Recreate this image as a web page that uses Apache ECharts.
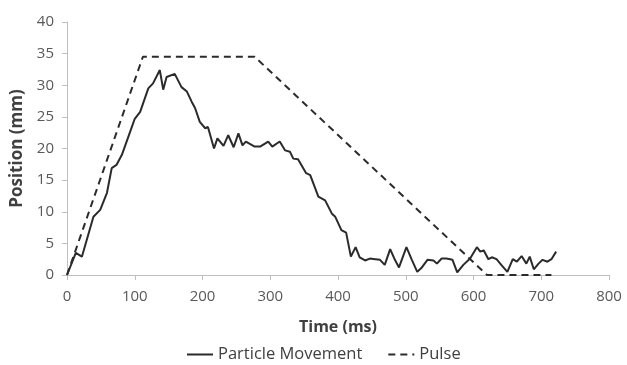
<!DOCTYPE html>
<html>
<head>
<meta charset="utf-8">
<script src="https://cdn.jsdelivr.net/npm/echarts@6/dist/echarts.min.js"></script>
<style>
html, body { margin: 0; padding: 0; background: #fff; }
#chart { width: 627px; height: 365px; }
</style>
</head>
<body>
<div id="chart"></div>
<script>
// 粒子位移
var particleTime = [0, 13, 22, 39, 49, 59, 66, 73, 81, 93, 100, 108, 120, 127, 137, 142, 147, 159, 169, 177,
    184, 189, 196, 204, 208, 217, 222, 231, 238, 246, 253, 259, 264, 277, 285, 297, 303, 314, 322, 329,
    334, 341, 353, 359, 371, 381, 391, 396, 405, 412, 419, 426, 432, 440, 447, 455, 462, 469, 477, 484,
    490, 501, 509, 517, 523, 532, 541, 546, 553, 560, 569, 576, 585, 595, 605, 610, 615, 622, 627, 634,
    641, 650, 658, 664, 671, 678, 683, 689, 696, 702, 709, 715, 722];
var particlePos = [0, 3.5, 2.9, 9.2, 10.3, 13, 16.9, 17.4, 19, 22.6, 24.7, 25.8, 29.5, 30.3, 32.4, 29.3, 31.3, 31.8, 29.7, 29.0,
    27.4, 26.4, 24.2, 23.2, 23.4, 20, 21.6, 20.4, 22.1, 20.2, 22.4, 20.5, 21.1, 20.3, 20.3, 21.1, 20.3, 21.1, 19.7, 19.5,
    18.4, 18.3, 16.1, 15.8, 12.4, 11.8, 9.7, 9.2, 7.1, 6.7, 2.9, 4.4, 2.8, 2.3, 2.6, 2.5, 2.4, 1.6, 4.1, 2.4,
    1.2, 4.4, 2.4, 0.5, 1.1, 2.4, 2.3, 1.8, 2.6, 2.6, 2.4, 0.4, 1.6, 2.6, 4.4, 3.7, 3.9, 2.5, 2.8, 2.5,
    1.6, 0.5, 2.5, 2.1, 3.0, 1.8, 2.9, 0.9, 1.8, 2.4, 2.1, 2.5, 3.7];

// 脉冲
var pulseTime = [0, 112, 277, 620, 715];
var pulsePos = [0, 34.5, 34.5, 0, 0];

var seriesNames = ["Particle Movement", "Pulse"];

function toPairs(xs, ys) {
    var out = [];
    for (var i = 0; i < xs.length; i++) {
        out.push([xs[i], ys[i]]);
    }
    return out;
}

var FONT = "Open Sans";
var chart = echarts.init(document.getElementById("chart"));

chart.setOption({
    animation: false,
    backgroundColor: "#fff",
    grid: { left: 67, right: 18, top: 22, bottom: 90 },
    legend: {
        top: 341,
        left: 181,
        itemWidth: 26,
        itemHeight: 10,
        itemGap: 25,
        itemStyle: { color: "transparent", borderWidth: 0 },
        textStyle: { fontFamily: FONT, fontSize: 16.5, color: "#404040" },
        data: seriesNames
    },
    xAxis: {
        type: "value",
        min: 0, max: 800, interval: 100,
        name: "Time (ms)",
        nameLocation: "middle",
        nameGap: 44,
        nameTextStyle: { fontFamily: FONT, fontSize: 16, fontWeight: "bold", color: "#404040" },
        axisLine: { show: true, lineStyle: { color: "#bfbfbf", width: 1 } },
        axisTick: { show: true, length: 5, lineStyle: { color: "#bfbfbf" } },
        axisLabel: { fontFamily: FONT, fontSize: 15, color: "#595959", margin: 14 },
        splitLine: { show: false }
    },
    yAxis: {
        type: "value",
        min: 0, max: 40, interval: 5,
        name: "Position (mm)",
        nameLocation: "middle",
        nameGap: 36,
        nameTextStyle: { fontFamily: FONT, fontSize: 17, fontWeight: "bold", color: "#404040" },
        axisLine: { show: true, lineStyle: { color: "#bfbfbf", width: 1 } },
        axisTick: { show: true, length: 5, lineStyle: { color: "#bfbfbf" } },
        axisLabel: { fontFamily: FONT, fontSize: 15, color: "#595959", margin: 13 },
        splitLine: { show: false }
    },
    series: [
        {
            name: seriesNames[0],
            type: "line",
            symbol: "none",
            data: toPairs(particleTime, particlePos),
            lineStyle: { color: "#2b2b2b", width: 2 },
            itemStyle: { color: "#2b2b2b" }
        },
        {
            name: seriesNames[1],
            type: "line",
            symbol: "none",
            data: toPairs(pulseTime, pulsePos),
            lineStyle: { color: "#2b2b2b", width: 2, type: [7, 5] },
            itemStyle: { color: "#2b2b2b" }
        }
    ]
});
</script>
</body>
</html>
